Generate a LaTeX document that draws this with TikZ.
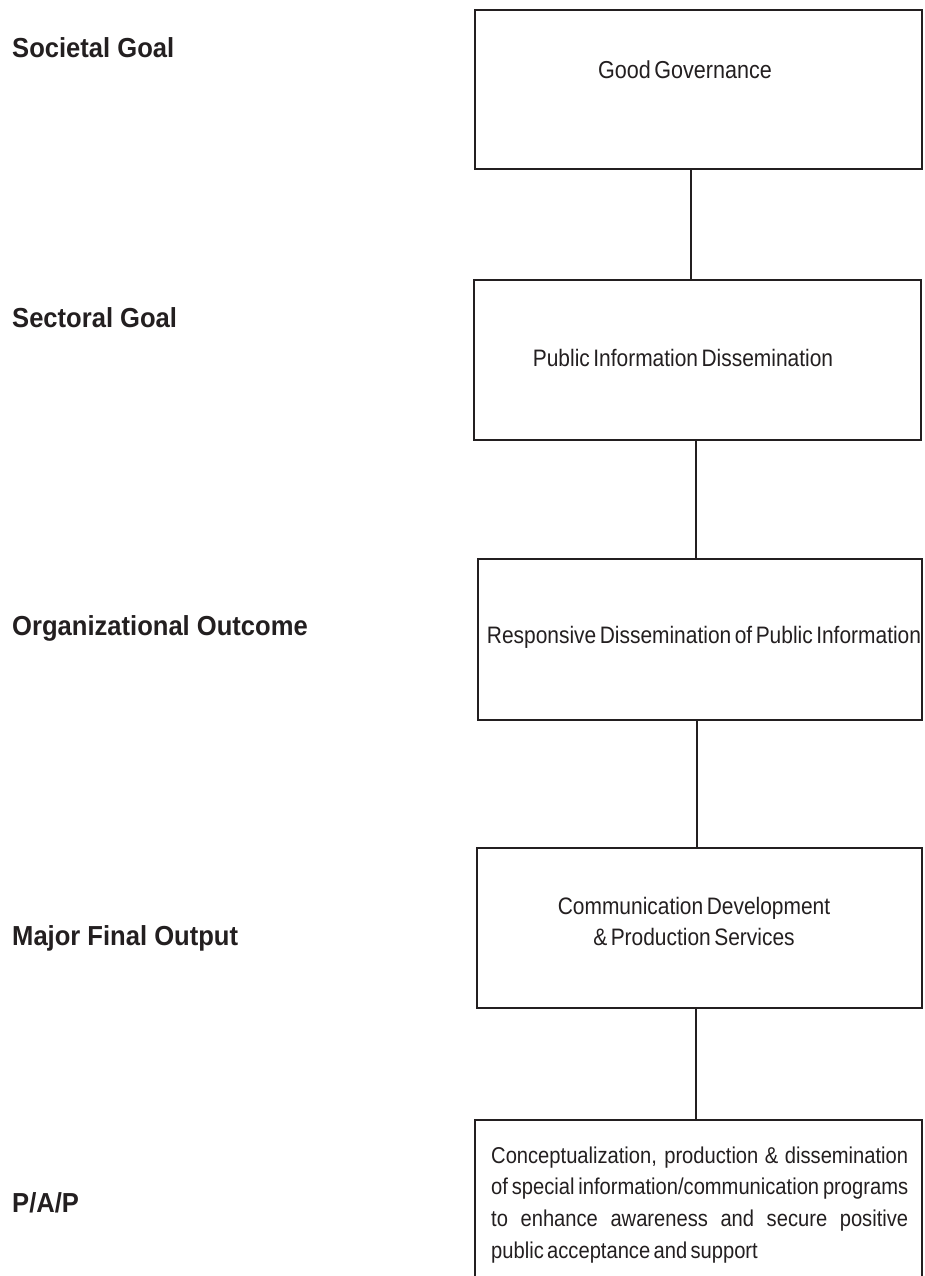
\documentclass[tikz,border=0pt]{standalone}
\usepackage{fontspec}
\usetikzlibrary{calc}
\newfontfamily\labfont[FakeStretch=0.93]{Liberation Sans}
\newfontfamily\tightfont[FakeStretch=0.88,WordSpace=0.55]{Liberation Sans}
\newfontfamily\parfont[FakeStretch=0.88,WordSpace={0.6,4,2}]{Liberation Sans}
\definecolor{ink}{HTML}{231F20}
\begin{document}
\begin{tikzpicture}[x=1pt,y=-1pt,
  box/.style={draw=ink,line width=2pt,inner sep=0pt},
  conn/.style={draw=ink,line width=2pt},
  lab/.style={anchor=base west,inner sep=0pt,text=ink,font=\labfont\bfseries\fontsize{27.5}{32}\selectfont},
  btext/.style={anchor=base,inner sep=0pt,text=ink,font=\tightfont\fontsize{23.8}{31.7}\selectfont},
  ptext/.style={anchor=base west,inner sep=0pt,text=ink,font=\parfont\fontsize{22.9}{31.7}\selectfont}]
\useasboundingbox (0,0) rectangle (924,1276);
\clip (0,0) rectangle (924,1276);
\fill[white] (0,0) rectangle (924,1276);

% boxes
\node[box,minimum width=447pt,minimum height=159pt] (b1) at (698.5,89.5) {};
\node[box,minimum width=447pt,minimum height=160pt] (b2) at (697.5,359.5) {};
\node[box,minimum width=444pt,minimum height=161pt] (b3) at (700,639.5) {};
\node[box,minimum width=445.5pt,minimum height=160pt] (b4) at (699.25,928) {};
\node[box,minimum width=447pt,minimum height=170pt] (b5) at (698.5,1205) {};

% connectors
\draw[conn] (b1.south -| 691,0) -- (b2.north -| 691,0);
\draw[conn] (b2.south -| 696,0) -- (b3.north -| 696,0);
\draw[conn] (b3.south -| 697,0) -- (b4.north -| 697,0);
\draw[conn] (b4.south -| 696,0) -- (b5.north -| 696,0);

% box texts
\node[btext,font=\tightfont\fontsize{24.5}{30}\selectfont] (t1) at (685,79) {Good Governance};
\node[btext] (t2) at (683,366) {Public Information Dissemination};
\node[btext] (t3) at (704,643) {Responsive Dissemination of Public Information};
\node[btext] (t4a) at (694,914) {Communication Development};
\node[btext] (t4b) at (694,945) {\& Production Services};
\node[ptext] (t5) at (491,1163) {\parbox[t]{417pt}{\baselineskip=31.7pt
\makebox[417pt][s]{Conceptualization, production \& dissemination}\\
\makebox[417pt][s]{of special information/communication programs}\\
\makebox[417pt][s]{to enhance awareness and secure positive}\\
public acceptance and support}};

% level labels
\node[lab] (l1) at (12,58) {Societal Goal};
\node[lab] (l2) at (12,327) {Sectoral Goal};
\node[lab] (l3) at (12,635) {Organizational Outcome};
\node[lab] (l4) at (12,945) {Major Final Output};
\node[lab] (l5) at (12,1212) {P/A/P};
\end{tikzpicture}
\end{document}
